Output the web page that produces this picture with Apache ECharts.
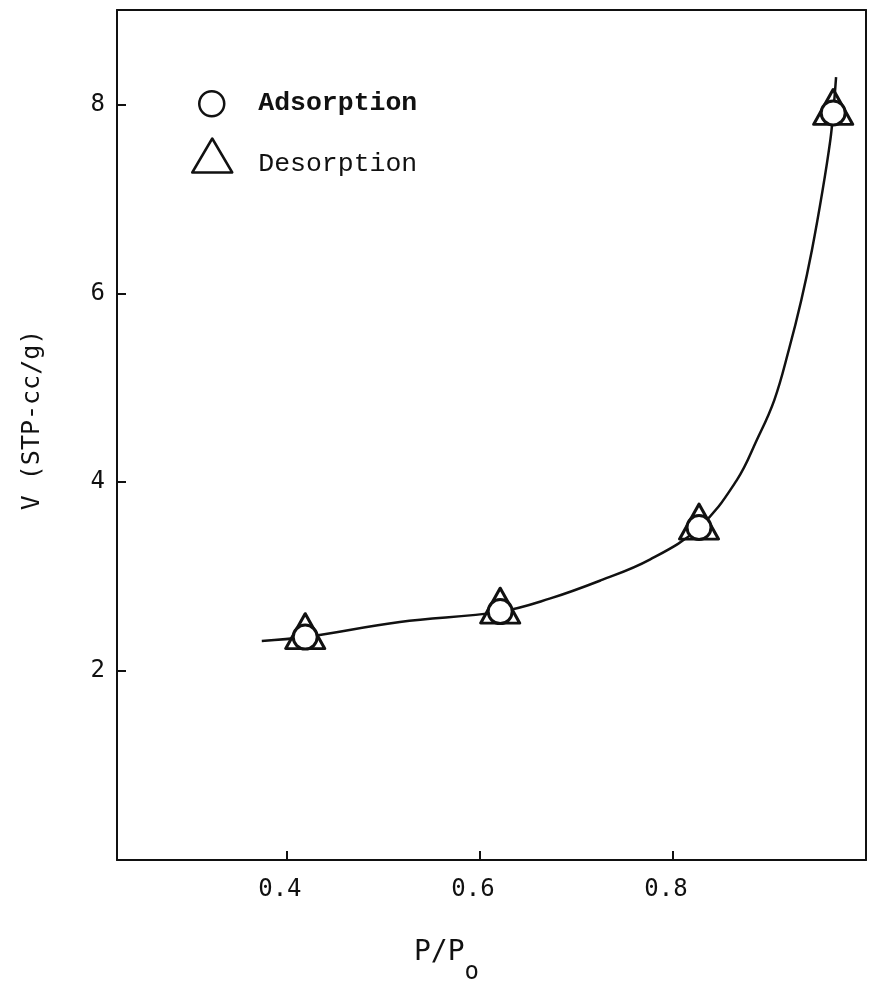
<!DOCTYPE html>
<html>
<head>
<meta charset="utf-8">
<title>Isotherm</title>
<script src="https://cdn.jsdelivr.net/npm/echarts@6/dist/echarts.min.js"></script>
<style>
  html, body { margin: 0; padding: 0; background: #fff; }
  #chart { width: 882px; height: 983px; }
</style>
</head>
<body>
<div id="chart"></div>
<script>
// Relative pressure P/Po and adsorbed volume V (STP-cc/g)
const adsorptionX = [0.419, 0.621, 0.827, 0.966];
const adsorptionY = [2.36, 2.63, 3.52, 7.91];
const desorptionX = [0.419, 0.621, 0.827, 0.966];
const desorptionY = [2.36, 2.63, 3.52, 7.91];

// Hand-drawn isotherm curve through the measurements
const curveX = [0.374, 0.419, 0.517, 0.621, 0.673, 0.725, 0.776, 0.827, 0.866, 0.887, 0.905, 0.920, 0.933, 0.944, 0.955, 0.963, 0.966, 0.969];
const curveY = [2.32, 2.36, 2.52, 2.63, 2.77, 2.96, 3.18, 3.52, 4.02, 4.45, 4.87, 5.40, 5.93, 6.46, 7.09, 7.62, 7.91, 8.29];

const xTicks = [0.4, 0.6, 0.8];
const yTicks = [2, 4, 6, 8];

const zip = (xs, ys) => xs.map((x, i) => [x, ys[i]]);

const INK = '#111';
const MONO = '"DejaVu Sans Mono", "Liberation Mono", monospace';
const TYPE = '"Liberation Mono", "DejaVu Sans Mono", monospace';

const chart = echarts.init(document.getElementById('chart'), null, { renderer: 'canvas' });

chart.setOption({
  animation: false,
  backgroundColor: '#fff',
  grid: { left: 117, right: 16, top: 10, bottom: 123, containLabel: false, outerBoundsMode: 'none' },
  legend: [
    {
      data: [{ name: 'Adsorption', icon: 'circle' }],
      left: 198, top: 90, padding: 0,
      itemWidth: 25, itemHeight: 25,
      itemStyle: { color: '#fff', borderColor: INK, borderWidth: 2.5 },
      formatter: '{t|{name}}',
      textStyle: {
        color: INK,
        rich: { t: { fontFamily: TYPE, fontSize: 26.5, fontWeight: 'bold', color: INK, padding: [0, 0, 0, 29] } }
      },
      selectedMode: false
    },
    {
      data: [{ name: 'Desorption', icon: 'triangle' }],
      left: 191, top: 134, padding: 0,
      itemWidth: 40, itemHeight: 34,
      itemStyle: { color: 'rgba(255,255,255,0)', borderColor: INK, borderWidth: 2.5, borderJoin: 'round' },
      formatter: '{t|{name}}',
      textStyle: {
        color: INK,
        rich: { t: { fontFamily: TYPE, fontSize: 26.5, color: INK, lineHeight: 26, padding: [16, 0, 0, 21] } }
      },
      selectedMode: false
    }
  ],
  xAxis: [
    {
      type: 'value', min: 0.224, max: 1.0, position: 'bottom',
      name: '{a|P/P}{b|o}', nameLocation: 'middle', nameGap: 79,
      nameTextStyle: {
        padding: [0, 90, 0, 0],
        rich: {
          a: { fontFamily: MONO, fontSize: 28, color: INK, verticalAlign: 'top', lineHeight: 30 },
          b: { fontFamily: MONO, fontSize: 24, color: INK, verticalAlign: 'top', lineHeight: 24, padding: [22, 0, 0, 0] }
        }
      },
      axisLine: { show: true, lineStyle: { color: INK, width: 2 } },
      axisTick: { show: true, inside: true, length: 9, customValues: xTicks, lineStyle: { color: INK, width: 2 } },
      axisLabel: { show: true, customValues: xTicks, margin: 18, fontFamily: MONO, fontSize: 24, color: INK,
                   padding: [0, 14, 0, 0], formatter: v => v.toFixed(1) },
      splitLine: { show: false }
    },
    {
      type: 'value', min: 0.224, max: 1.0, position: 'top',
      axisLine: { show: true, onZero: false, lineStyle: { color: INK, width: 2 } },
      axisTick: { show: false }, axisLabel: { show: false }, splitLine: { show: false }
    }
  ],
  yAxis: [
    {
      type: 'value', min: 0, max: 9, position: 'left',
      name: 'V (STP-cc/g)', nameLocation: 'middle', nameRotate: 90, nameGap: 72,
      nameTextStyle: { fontFamily: MONO, fontSize: 25, color: INK, padding: [0, 0, 0, 30] },
      axisLine: { show: true, lineStyle: { color: INK, width: 2 } },
      axisTick: { show: true, inside: true, length: 9, customValues: yTicks, lineStyle: { color: INK, width: 2 } },
      axisLabel: { show: true, customValues: yTicks, margin: 12, fontFamily: MONO, fontSize: 24, color: INK },
      splitLine: { show: false }
    },
    {
      type: 'value', min: 0, max: 9, position: 'right',
      axisLine: { show: true, onZero: false, lineStyle: { color: INK, width: 2 } },
      axisTick: { show: false }, axisLabel: { show: false }, splitLine: { show: false }
    }
  ],
  series: [
    {
      name: 'curve', type: 'line', data: zip(curveX, curveY),
      smooth: 0.4, symbol: 'none', silent: true,
      lineStyle: { color: INK, width: 2.5 }, z: 2
    },
    {
      name: 'Desorption', type: 'scatter', data: zip(desorptionX, desorptionY),
      symbol: 'triangle', symbolSize: [39, 35], symbolOffset: [0, -6],
      itemStyle: { color: 'rgba(255,255,255,0)', borderColor: INK, borderWidth: 3, borderJoin: 'round', opacity: 1 }, z: 3
    },
    {
      name: 'Adsorption', type: 'scatter', data: zip(adsorptionX, adsorptionY),
      symbol: 'circle', symbolSize: 24,
      itemStyle: { color: '#fff', borderColor: INK, borderWidth: 3, opacity: 1 }, z: 4
    }
  ]
});
</script>
</body>
</html>
